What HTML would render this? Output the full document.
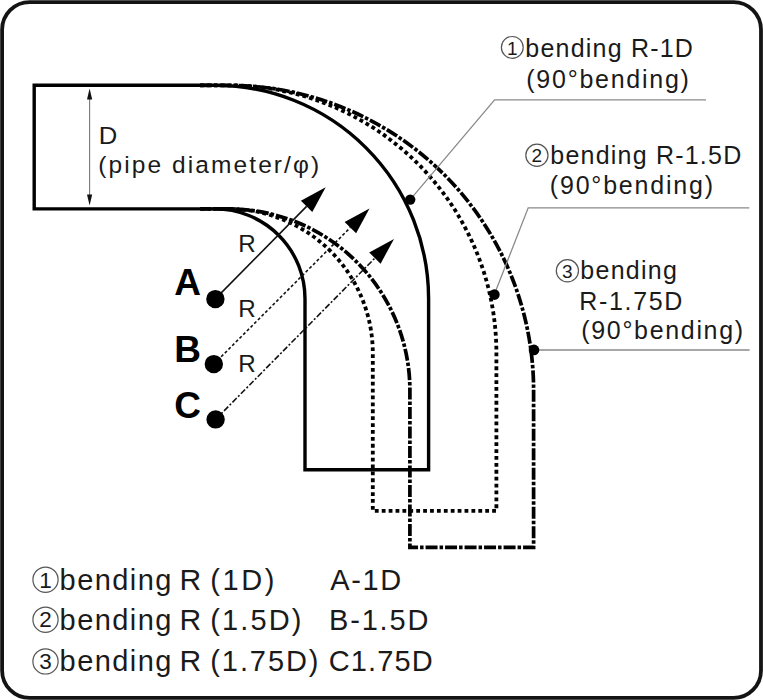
<!DOCTYPE html>
<html><head><meta charset="utf-8">
<style>
html,body{margin:0;padding:0;background:#fff;}
body{width:763px;height:700px;overflow:hidden;}
svg{display:block;}
text{font-family:"Liberation Sans",sans-serif;fill:#1a1a1a;}
</style></head>
<body><div id="w">
<svg width="763" height="700" viewBox="0 0 763 700">
<rect x="0" y="0" width="763" height="700" fill="#fff"/>
<!-- outer frame -->
<rect x="2.1" y="2.1" width="758.9" height="695.8" rx="27.5" ry="27.5" fill="none" stroke="#141414" stroke-width="3.8"/>

<!-- pipe 3 dash-dot -->
<path d="M200 85.3 H228.5 A305.1 305.1 0 0 1 533.6 390.4 V547.3 H409.9 V390.4 A181.4 181.4 0 0 0 228.5 208.9 H200" fill="none" stroke="#000" stroke-width="3.7" stroke-dasharray="12 2 3.5 2"/>
<!-- pipe 2 dotted -->
<path d="M200 85.3 H228.5 A267.9 267.9 0 0 1 496.4 353.2 V510.8 H372.8 V353.2 A144.3 144.3 0 0 0 228.5 208.9 H200" fill="none" stroke="#000" stroke-width="3.8" stroke-dasharray="3.8 3.1"/>
<!-- pipe 1 solid -->
<path d="M34.2 85.3 H215.1 A213.5 213.5 0 0 1 428.6 298.8 V469.8 H305 V298.8 A89.9 89.9 0 0 0 215.1 208.9 H34.2 Z" fill="none" stroke="#000" stroke-width="3.4"/>

<!-- D dimension arrow -->
<line x1="89.6" y1="95" x2="89.6" y2="199" stroke="#777" stroke-width="1.1"/>
<polygon points="89.6,88.5 87,99.5 92.2,99.5" fill="#111"/>
<polygon points="89.6,205.5 87,194.5 92.2,194.5" fill="#111"/>

<!-- arrows -->
<line x1="215.3" y1="298.9" x2="306.6" y2="206.4" stroke="#111" stroke-width="1.6"/>
<polygon points="325.7,187.3 300.9,200.7 312.3,212.1" fill="#000"/>
<line x1="213.8" y1="364.1" x2="350.4" y2="227.5" stroke="#111" stroke-width="1.6" stroke-dasharray="3 2.2"/>
<polygon points="369.5,208.6 344.6,222.1 356.1,233.3" fill="#000"/>
<line x1="215.6" y1="419.4" x2="375" y2="258" stroke="#111" stroke-width="1.6" stroke-dasharray="6 2 2 2"/>
<polygon points="394,238.9 369.2,252.5 380.6,263.7" fill="#000"/>

<!-- big dots -->
<circle cx="215.4" cy="299.1" r="9.2" fill="#000"/>
<circle cx="213.8" cy="364.1" r="9.2" fill="#000"/>
<circle cx="215.6" cy="419.4" r="9.2" fill="#000"/>

<!-- leaders -->
<polyline points="410.2,199.7 494.6,99.9 706,99.9" fill="none" stroke="#8a8a8a" stroke-width="1.3"/>
<polyline points="494.3,294.6 528.2,207.8 749.3,207.8" fill="none" stroke="#8a8a8a" stroke-width="1.3"/>
<polyline points="534.3,350 749.6,350" fill="none" stroke="#8a8a8a" stroke-width="1.3"/>
<circle cx="410.2" cy="199.6" r="5.2" fill="#000"/>
<circle cx="494.4" cy="294.6" r="5.3" fill="#000"/>
<circle cx="534" cy="349.9" r="5.3" fill="#000"/>

<!-- circled numbers -->
<circle cx="512.3" cy="47.4" r="10.9" fill="none" stroke="#555" stroke-width="1.2"/>
<text x="512.3" y="54.9" font-size="19" text-anchor="middle">1</text>
<circle cx="536.9" cy="155.3" r="11.1" fill="none" stroke="#555" stroke-width="1.2"/>
<text x="536.9" y="161.9" font-size="19" text-anchor="middle">2</text>
<circle cx="567.4" cy="270.8" r="11.1" fill="none" stroke="#555" stroke-width="1.2"/>
<text x="567.4" y="277.6" font-size="19" text-anchor="middle">3</text>
<circle cx="45.5" cy="579.7" r="12.6" fill="none" stroke="#555" stroke-width="1.2"/>
<text x="45.5" y="587.9" font-size="22.5" text-anchor="middle">1</text>
<circle cx="45.5" cy="619.7" r="12.6" fill="none" stroke="#555" stroke-width="1.2"/>
<text x="45.5" y="627.4" font-size="22.5" text-anchor="middle">2</text>
<circle cx="45.5" cy="661.4" r="12.6" fill="none" stroke="#555" stroke-width="1.2"/>
<text x="45.5" y="669.1" font-size="22.5" text-anchor="middle">3</text>
<text x="98.79" y="143.7" font-size="23.5" textLength="18.56" lengthAdjust="spacingAndGlyphs">D</text>
<text x="98.34" y="173.2" font-size="24.5" textLength="220.78" lengthAdjust="spacing">(pipe diameter/φ)</text>
<text x="238.27" y="251.6" font-size="23.5" textLength="17.48" lengthAdjust="spacingAndGlyphs">R</text>
<text x="238.27" y="316.9" font-size="23.5" textLength="17.48" lengthAdjust="spacingAndGlyphs">R</text>
<text x="238.27" y="372.3" font-size="23.5" textLength="17.48" lengthAdjust="spacingAndGlyphs">R</text>
<text x="174.29" y="294.7" font-size="37" font-weight="bold" style="fill:#000">A</text>
<text x="174.34" y="361.5" font-size="37" font-weight="bold" style="fill:#000">B</text>
<text x="174.36" y="418" font-size="37" font-weight="bold" style="fill:#000">C</text>
<text x="525.32" y="56.8" font-size="25" textLength="167.57" lengthAdjust="spacing">bending R-1D</text>
<text x="526.28" y="87.5" font-size="25" textLength="162.63" lengthAdjust="spacing">(90°bending)</text>
<text x="550.32" y="164.3" font-size="25" textLength="190.89" lengthAdjust="spacing">bending R-1.5D</text>
<text x="549.81" y="193.8" font-size="25" textLength="163.26" lengthAdjust="spacing">(90°bending)</text>
<text x="580.32" y="279.3" font-size="25" textLength="96.56" lengthAdjust="spacing">bending</text>
<text x="579.32" y="309.7" font-size="25" textLength="102.96" lengthAdjust="spacing">R-1.75D</text>
<text x="581.29" y="338.7" font-size="25" textLength="161.79" lengthAdjust="spacing">(90°bending)</text>
<text x="59.60" y="590.4" font-size="29" textLength="111.71" lengthAdjust="spacing">bending</text>
<text x="179.63" y="590.4" font-size="29" textLength="21.70" lengthAdjust="spacingAndGlyphs">R</text>
<text x="59.60" y="630.3" font-size="29" textLength="111.71" lengthAdjust="spacing">bending</text>
<text x="179.63" y="630.3" font-size="29" textLength="21.70" lengthAdjust="spacingAndGlyphs">R</text>
<text x="59.60" y="670.8" font-size="29" textLength="111.71" lengthAdjust="spacing">bending</text>
<text x="179.63" y="670.8" font-size="29" textLength="21.70" lengthAdjust="spacingAndGlyphs">R</text>
<text x="210.25" y="590.4" font-size="29" textLength="64.27" lengthAdjust="spacing">(1D)</text>
<text x="210.28" y="630.3" font-size="29" textLength="91.23" lengthAdjust="spacing">(1.5D)</text>
<text x="210.29" y="670.8" font-size="29" textLength="108.18" lengthAdjust="spacing">(1.75D)</text>
<text x="330.27" y="590.4" font-size="29" textLength="70.82" lengthAdjust="spacing">A-1D</text>
<text x="329.03" y="630.3" font-size="29" textLength="99.31" lengthAdjust="spacing">B-1.5D</text>
<text x="328.65" y="670.8" font-size="29" textLength="104.16" lengthAdjust="spacing">C1.75D</text>
</svg></div>
</body></html>
